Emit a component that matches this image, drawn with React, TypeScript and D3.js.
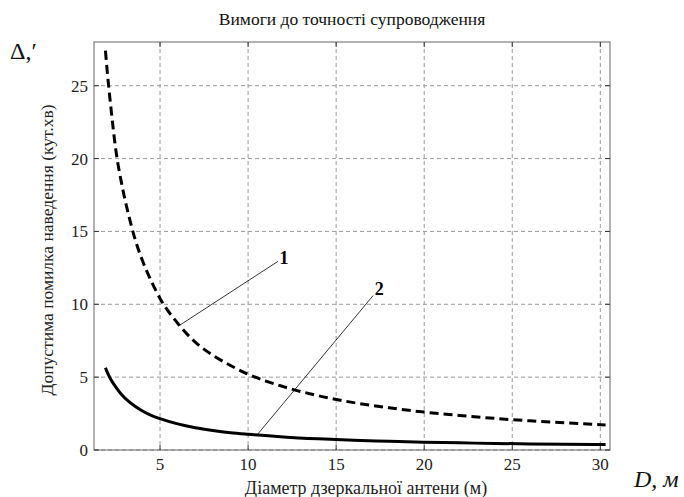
import React from 'react';
import * as d3 from 'd3';

// antenna diameter, m
const diameters = [1.9, 2, 2.2, 2.5, 2.8, 3.2, 3.6, 4, 4.5, 5, 6, 7, 8, 9, 10, 12, 14, 16, 18, 20, 22, 24, 26, 28, 30, 30.3];
// curve 1 (dashed), arc minutes
const errorCurve1 = [27.4, 26.0, 23.6, 20.5, 18.4, 16.2, 14.4, 13.0, 11.6, 10.4, 8.7, 7.4, 6.5, 5.8, 5.2, 4.35, 3.72, 3.25, 2.9, 2.6, 2.37, 2.17, 2.0, 1.86, 1.74, 1.72];
// curve 2 (solid), arc minutes
const errorCurve2 = [5.65, 5.35, 4.86, 4.3, 3.83, 3.35, 2.98, 2.68, 2.38, 2.15, 1.79, 1.53, 1.34, 1.19, 1.08, 0.9, 0.77, 0.67, 0.6, 0.53, 0.49, 0.45, 0.42, 0.4, 0.38, 0.38];

const xTicks = [5, 10, 15, 20, 25, 30];
const yTicks = [0, 5, 10, 15, 20, 25];

const W = 684;
const H = 497;
const margin = { top: 42, right: 74, bottom: 47, left: 94 };
const FONT = '"Liberation Serif", "Times New Roman", serif';

export default function App() {
  const x = d3.scaleLinear().domain([1.25, 30.55]).range([margin.left, W - margin.right]);
  const y = d3.scaleLinear().domain([0, 28]).range([H - margin.bottom, margin.top]);

  const pts1 = diameters.map((d, i) => [d, errorCurve1[i]] as [number, number]);
  const pts2 = diameters.map((d, i) => [d, errorCurve2[i]] as [number, number]);

  const line = d3.line<[number, number]>()
    .x(d => x(d[0]))
    .y(d => y(d[1]))
    .curve(d3.curveMonotoneX);

  const x0 = x.range()[0], x1 = x.range()[1];
  const y0 = y.range()[0], y1 = y.range()[1];
  const tickLen = 5;

  // leader lines: label end -> point on curve
  const lead1 = { lx: 11.7, ly: 12.95, ex: 6.1, ey: 8.55 };
  const lead2 = { lx: 17.1, ly: 10.6, ex: 10.5, ey: 1.02 };

  return (
    <svg width={W} height={H} style={{ position: 'absolute', left: 0, top: 0, background: '#fff' }}>
      {/* title */}
      <text x={(x0 + x1) / 2} y={25} textAnchor="middle" fontFamily={FONT} fontSize={17.5} fill="#111">
        Вимоги до точності супроводження
      </text>

      {/* grid */}
      {xTicks.map(t => (
        <line key={'gx' + t} x1={x(t)} x2={x(t)} y1={y1} y2={y0} stroke="#9a9a9a" strokeWidth={1} strokeDasharray="4,3" />
      ))}
      {yTicks.map(t => (
        <line key={'gy' + t} x1={x0} x2={x1} y1={y(t)} y2={y(t)} stroke="#9a9a9a" strokeWidth={1} strokeDasharray="4,3" />
      ))}

      {/* box */}
      <rect x={x0} y={y1} width={x1 - x0} height={y0 - y1} fill="none" stroke="#666" strokeWidth={1} />

      {/* ticks */}
      {xTicks.map(t => (
        <g key={'tx' + t} stroke="#333" strokeWidth={1}>
          <line x1={x(t)} x2={x(t)} y1={y0} y2={y0 - tickLen} />
          <line x1={x(t)} x2={x(t)} y1={y1} y2={y1 + tickLen} />
        </g>
      ))}
      {yTicks.map(t => (
        <g key={'ty' + t} stroke="#333" strokeWidth={1}>
          <line x1={x0} x2={x0 + tickLen} y1={y(t)} y2={y(t)} />
          <line x1={x1} x2={x1 - tickLen} y1={y(t)} y2={y(t)} />
        </g>
      ))}

      {/* tick labels */}
      {xTicks.map(t => (
        <text key={'lx' + t} x={x(t)} y={y0 + 20} textAnchor="middle" fontFamily={FONT} fontSize={17} fill="#222">{t}</text>
      ))}
      {yTicks.map(t => (
        <text key={'ly' + t} x={x0 - 6} y={y(t) + 6} textAnchor="end" fontFamily={FONT} fontSize={17} fill="#222">{t}</text>
      ))}

      {/* axis labels */}
      <text x={366} y={H - 3} textAnchor="middle" fontFamily={FONT} fontSize={18} fill="#222">
        Діаметр дзеркальної антени (м)
      </text>
      <text transform={`translate(53, ${(y0 + y1) / 2 + 4}) rotate(-90)`} textAnchor="middle" fontFamily={FONT} fontSize={17.5} fill="#222">
        Допустима помилка наведення (кут.хв)
      </text>

      {/* corner symbols */}
      <text x={10} y={59} fontFamily={FONT} fontSize={24} fill="#111">Δ,′</text>
      <text x={634} y={487} fontFamily={FONT} fontSize={24} fontStyle="italic" fill="#111">D, м</text>

      {/* curves */}
      <path d={line(pts1) || ''} fill="none" stroke="#000" strokeWidth={3} strokeDasharray="9,5" />
      <path d={line(pts2) || ''} fill="none" stroke="#000" strokeWidth={3} />

      {/* leaders */}
      <line x1={x(lead1.lx)} y1={y(lead1.ly)} x2={x(lead1.ex)} y2={y(lead1.ey)} stroke="#000" strokeWidth={0.8} />
      <line x1={x(lead2.lx)} y1={y(lead2.ly)} x2={x(lead2.ex)} y2={y(lead2.ey)} stroke="#000" strokeWidth={0.8} />
      <text x={x(lead1.lx) + 6} y={y(lead1.ly) + 3} textAnchor="middle" fontFamily={FONT} fontSize={18} fontWeight="bold">1</text>
      <text x={x(lead2.lx) + 6} y={y(lead2.ly) - 1} textAnchor="middle" fontFamily={FONT} fontSize={18} fontWeight="bold">2</text>
    </svg>
  );
}
